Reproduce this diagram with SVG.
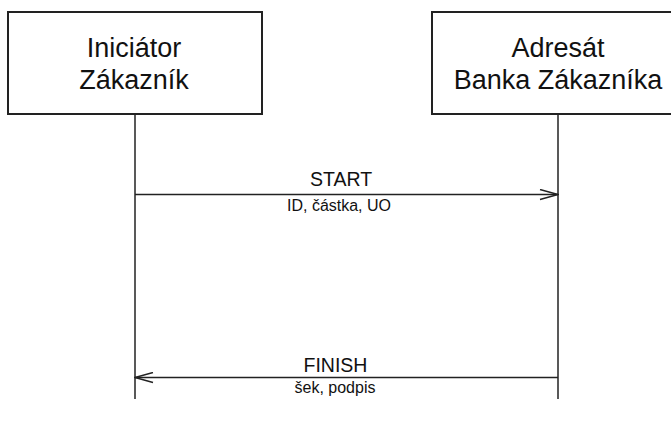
<svg xmlns="http://www.w3.org/2000/svg" width="671" height="429" viewBox="0 0 671 429">
<style>
.box{fill:#fff;stroke:#222;stroke-width:2}
.life{stroke:#222;stroke-width:1.5;fill:none}
.msg{stroke:#222;stroke-width:1.5;fill:none}
.t{font-family:"Liberation Sans",Arial,sans-serif;font-size:27px;fill:#111;text-anchor:middle}
.lbl{font-family:"Liberation Sans",Arial,sans-serif;font-size:19.5px;fill:#111;text-anchor:middle}
.sub{font-family:"Liberation Sans",Arial,sans-serif;font-size:16px;fill:#111;text-anchor:middle}
</style>
<defs>
<marker id="open" markerWidth="20" markerHeight="12" refX="19" refY="6" orient="auto" markerUnits="userSpaceOnUse">
<path d="M1,1 L19,6 L1,11" fill="none" stroke="#222" stroke-width="1.5"/>
</marker>
</defs>
<rect width="671" height="429" fill="#fff"/>
<g id="connectors">
<line class="life" x1="135" y1="114" x2="135" y2="399"/>
<line class="life" x1="558" y1="114" x2="558" y2="399"/>
<line class="msg" x1="135" y1="194.5" x2="558" y2="194.5" marker-end="url(#open)"/>
<line class="msg" x1="558" y1="377.5" x2="135" y2="377.5" marker-end="url(#open)"/>
<text class="lbl" x="341" y="186">START</text>
<text class="sub" x="339" y="211">ID, částka, UO</text>
<text class="lbl" x="335.5" y="372">FINISH</text>
<text class="sub" x="335" y="393">šek, podpis</text>
</g>
<g id="initiator">
<rect class="box" x="8" y="12" width="254" height="102"/>
<text class="t" x="134" y="57">Iniciátor</text>
<text class="t" x="134" y="89">Zákazník</text>
</g>
<g id="addressee">
<rect class="box" x="432" y="12" width="253" height="102"/>
<text class="t" x="558" y="57">Adresát</text>
<text class="t" x="558" y="89">Banka Zákazníka</text>
</g>
</svg>
